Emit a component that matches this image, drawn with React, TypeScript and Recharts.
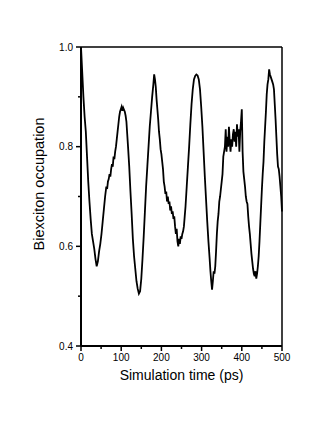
import { Label, LineChart, Line, ReferenceLine, XAxis, YAxis } from 'recharts'

// simulation time (ps)
const times = [
  0, 3, 6, 9, 12, 15, 18, 21, 24, 27, 30, 33, 36, 39, 42, 45, 48, 51, 54, 57,
  60, 63, 65, 67, 69, 71, 73, 75, 77, 79, 81, 83, 85, 87, 89, 91, 93, 95, 97, 99,
  101, 103, 105, 107, 109, 111, 113, 115, 117, 120, 123, 126, 129, 132, 135, 138, 141, 144, 147, 150,
  153, 156, 159, 162, 165, 168, 171, 174, 177, 180, 182, 184, 186, 188, 190, 192, 194, 196, 198, 200,
  202, 204, 206, 208, 210, 212, 214, 216, 218, 220, 222, 224, 226, 228, 230, 232, 234, 236, 238, 240,
  242, 244, 246, 248, 250, 252, 254, 256, 258, 260, 263, 266, 269, 272, 275, 278, 281, 284, 287, 290,
  293, 296, 299, 302, 305, 308, 311, 314, 317, 320, 322, 324, 326, 328, 330, 332, 334, 336, 338, 340,
  342, 344, 346, 348, 350, 352, 354, 356, 358, 360, 362, 364, 366, 368, 370, 372, 374, 376, 378, 380,
  382, 384, 386, 388, 390, 392, 394, 396, 398, 400, 402, 404, 406, 408, 410, 412, 414, 416, 418, 420,
  422, 424, 426, 428, 430, 432, 434, 436, 438, 440, 442, 444, 446, 448, 450, 452, 454, 456, 458, 460,
  462, 464, 466, 468, 470, 472, 474, 476, 478, 480, 482, 484, 486, 488, 490, 492, 494, 496, 498, 500,
]

// biexciton occupation
const occupation = [
  1.0, 0.95, 0.9, 0.86, 0.83, 0.78, 0.73, 0.69, 0.655, 0.625, 0.61, 0.595, 0.575, 0.56, 0.57, 0.59, 0.605, 0.625, 0.65, 0.675,
  0.7, 0.72, 0.715, 0.73, 0.735, 0.745, 0.74, 0.755, 0.765, 0.76, 0.78, 0.775, 0.79, 0.8, 0.815, 0.83, 0.845, 0.86, 0.87, 0.875,
  0.88, 0.872, 0.878, 0.874, 0.87, 0.862, 0.85, 0.825, 0.8, 0.76, 0.71, 0.665, 0.615, 0.58, 0.555, 0.53, 0.515, 0.505, 0.51, 0.535,
  0.575, 0.62, 0.67, 0.72, 0.76, 0.8, 0.84, 0.87, 0.9, 0.925, 0.945, 0.935, 0.92, 0.895, 0.875, 0.855, 0.83, 0.815, 0.795, 0.785,
  0.77, 0.755, 0.73, 0.72, 0.705, 0.71, 0.69, 0.7, 0.685, 0.69, 0.672, 0.68, 0.665, 0.67, 0.655, 0.66, 0.64, 0.625, 0.635, 0.61,
  0.6, 0.615, 0.605, 0.62, 0.615, 0.625, 0.63, 0.64, 0.66, 0.68, 0.72, 0.76, 0.8, 0.845, 0.885, 0.915, 0.935, 0.942, 0.945, 0.943,
  0.935, 0.915, 0.88, 0.84, 0.79, 0.74, 0.695, 0.65, 0.61, 0.575, 0.55, 0.53, 0.513, 0.53, 0.55, 0.545, 0.56, 0.59, 0.625, 0.65,
  0.665, 0.69, 0.7, 0.715, 0.73, 0.745, 0.78, 0.79, 0.8, 0.835, 0.79, 0.82, 0.8, 0.84, 0.81, 0.79, 0.815, 0.8, 0.825, 0.835,
  0.81, 0.83, 0.8, 0.845, 0.82, 0.835, 0.79, 0.83, 0.85, 0.875, 0.79, 0.75, 0.735, 0.72, 0.7, 0.69, 0.685, 0.66, 0.64, 0.625,
  0.605, 0.585, 0.57, 0.555, 0.545, 0.54, 0.55, 0.535, 0.545, 0.56, 0.58, 0.61, 0.645, 0.68, 0.715, 0.745, 0.77, 0.81, 0.84, 0.87,
  0.905, 0.925, 0.935, 0.955, 0.945, 0.94, 0.935, 0.93, 0.925, 0.915, 0.885, 0.855, 0.82, 0.785, 0.76, 0.755, 0.74, 0.72, 0.7, 0.67,
]

const xTicks = [0, 50, 100, 150, 200, 250, 300, 350, 400, 450, 500]
const yTicks = [0.4, 0.5, 0.6, 0.7, 0.8, 0.9, 1.0]

const data = times.map((t, i) => ({ t, v: occupation[i] }))

const FONT = '"Liberation Sans", Arial, sans-serif'

function XTick(props: any) {
  const { x, y, payload } = props
  const major = payload.value % 100 === 0
  return (
    <g>
      <line x1={x} x2={x} y1={y} y2={y + (major ? 5 : 3)} stroke="#000" strokeWidth={1.5} />
      {major && (
        <text x={x} y={y + 15} textAnchor="middle" fontSize={10} fontFamily={FONT} fill="#000">
          {payload.value}
        </text>
      )}
    </g>
  )
}

function YTick(props: any) {
  const { x, y, payload } = props
  const major = Math.round(payload.value * 10) % 2 === 0
  return (
    <g>
      <line x1={x} x2={x - (major ? 5 : 3)} y1={y} y2={y} stroke="#000" strokeWidth={1.5} />
      {major && (
        <text x={x - 8} y={y} dy="0.36em" textAnchor="end" fontSize={10} fontFamily={FONT} fill="#000">
          {payload.value.toFixed(1)}
        </text>
      )}
    </g>
  )
}

export default function App() {
  return (
    <div style={{ position: 'absolute', left: 0, top: 0, background: '#fff' }}>
      <LineChart width={332} height={435} data={data} margin={{ top: 47, right: 50, bottom: 59, left: 41 }}>
        <XAxis
          dataKey="t"
          type="number"
          domain={[0, 500]}
          ticks={xTicks}
          interval={0}
          tickLine={false}
          tickSize={0}
          tickMargin={0}
          tick={<XTick />}
          axisLine={{ stroke: '#000', strokeWidth: 2 }}
          height={30}
        >
          <Label
            content={(p: any) => (
              <text
                x={p.viewBox.x + p.viewBox.width / 2}
                y={p.viewBox.y + 34}
                textAnchor="middle"
                fontSize={14}
                fontFamily={FONT}
                fill="#000"
              >
                Simulation time (ps)
              </text>
            )}
          />
        </XAxis>
        <YAxis
          type="number"
          domain={[0.4, 1.0]}
          ticks={yTicks}
          interval={0}
          allowDataOverflow
          tickLine={false}
          tickSize={0}
          tickMargin={0}
          tick={<YTick />}
          axisLine={{ stroke: '#000', strokeWidth: 2 }}
          width={40}
        >
          <Label
            content={(p: any) => {
              const cx = p.viewBox.x - 2
              const cy = 184
              return (
                <text
                  x={cx}
                  y={cy}
                  transform={`rotate(-90, ${cx}, ${cy})`}
                  textAnchor="middle"
                  dominantBaseline="central"
                  fontSize={14.5}
                  fontFamily={FONT}
                  fill="#000"
                >
                  Biexciton occupation
                </text>
              )
            }}
          />
        </YAxis>
        <ReferenceLine y={1.0} stroke="#000" strokeWidth={1.5} />
        <ReferenceLine x={500} stroke="#000" strokeWidth={1.5} />
        <Line
          dataKey="v"
          type="linear"
          stroke="#000"
          strokeWidth={1.8}
          dot={false}
          isAnimationActive={false}
        />
      </LineChart>
    </div>
  )
}
